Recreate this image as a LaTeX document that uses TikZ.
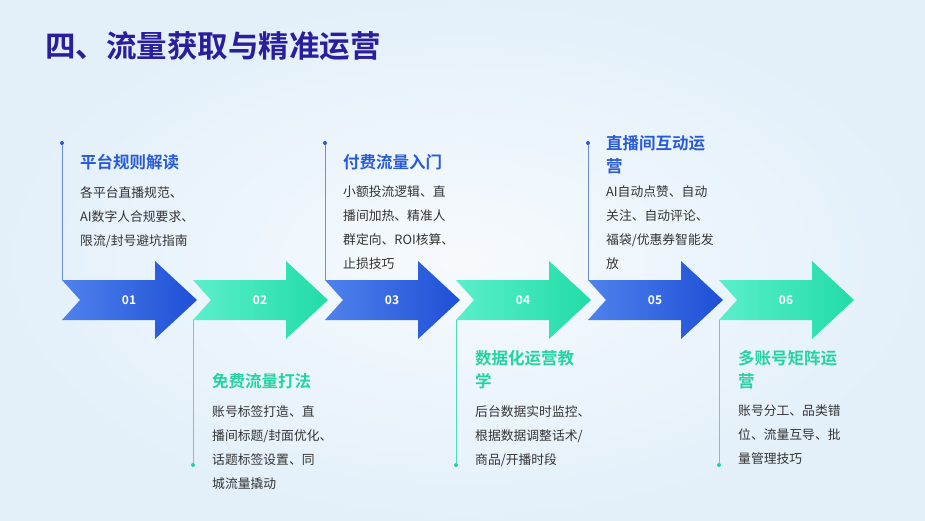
\documentclass[tikz,border=0pt]{standalone}
\usepackage{fontspec}
\setmainfont{Noto Sans CJK SC}
\newfontfamily\boldcjk{Noto Sans CJK SC Bold}
\definecolor{bgA}{HTML}{E3F0FA}
\definecolor{bgB}{HTML}{F6FAFD}
\definecolor{bA}{HTML}{4F82EC}
\definecolor{bB}{HTML}{1E4FD6}
\definecolor{gA}{HTML}{5AEFCB}
\definecolor{gB}{HTML}{22DCA6}
\definecolor{bT}{HTML}{2A5BD7}
\definecolor{gT}{HTML}{25D3A0}
\definecolor{txt}{HTML}{333333}
\definecolor{hd}{HTML}{2A1E9C}
\tikzset{
 hdtitle/.style={anchor=base west,inner sep=0pt,font=\boldcjk\fontsize{16.5}{23}\selectfont,align=left},
 body/.style={anchor=north west,inner sep=0pt,text=txt,font=\fontsize{12.8}{24}\selectfont,align=left},
 vline/.style={line width=0.7pt},
}
\newcommand{\chev}[3]{% x0, colA, colB
 \shade[left color=#2,right color=#3] (#1,280) -- (#1+93,280) -- (#1+93,261) -- (#1+135,300) -- (#1+93,339) -- (#1+93,320) -- (#1,320) -- (#1+18,300) -- cycle;}
\begin{document}
\begin{tikzpicture}[x=1pt,y=-1pt]
\useasboundingbox (0,0) rectangle (925,520);
\shade[inner color=bgB,outer color=bgA] (0,0) rectangle (925,520);
\node[anchor=base west,inner sep=0pt,text=hd,font=\boldcjk\fontsize{30.5}{34}\selectfont] (t) at (45,57) {四、流量获取与精准运营};
% arrows
\chev{62}{bA}{bB}
\chev{193}{gA}{gB}
\chev{325}{bA}{bB}
\chev{456}{gA}{gB}
\chev{588}{bA}{bB}
\chev{719}{gA}{gB}
\foreach \x/\n in {62/01,193/02,325/03,456/04,588/05,719/06}
  \node[text=white,font=\boldcjk\fontsize{12}{14}\selectfont] (n\n) at (\x+67,300) {\n};
% vertical lines
\foreach \x in {62,325,588} {\draw[vline,bT!70] (\x,143) -- (\x,280); \fill[bT] (\x,143) circle (2);}
\foreach \x in {193,456,719} {\draw[vline,gT!80] (\x,320) -- (\x,465); \fill[gT] (\x,465) circle (2);}
% texts
\node[hdtitle,text=bT] (h1) at (80,168) {平台规则解读};
\node[body] (b1) at (80,186) {各平台直播规范、\\AI数字人合规要求、\\限流/封号避坑指南};
\node[hdtitle,text=bT] (h3) at (343,168) {付费流量入门};
\node[body] (b3) at (343,186) {小额投流逻辑、直\\播间加热、精准人\\群定向、ROI核算、\\止损技巧};
\node[hdtitle,text=bT] (h5) at (606,172) {直播间互动运\\营};
\node[body] (b5) at (606,186) {AI自动点赞、自动\\关注、自动评论、\\福袋/优惠券智能发\\放};
\node[hdtitle,text=gT] (h2) at (212,387) {免费流量打法};
\node[body] (b2) at (212,405) {账号标签打造、直\\播间标题/封面优化、\\话题标签设置、同\\城流量撬动};
\node[hdtitle,text=gT] (h4) at (475,387) {数据化运营教\\学};
\node[body] (b4) at (475,405) {后台数据实时监控、\\根据数据调整话术/\\商品/开播时段};
\node[hdtitle,text=gT] (h6) at (738,387) {多账号矩阵运\\营};
\node[body] (b6) at (738,405) {账号分工、品类错\\位、流量互导、批\\量管理技巧};
\end{tikzpicture}
\end{document}
